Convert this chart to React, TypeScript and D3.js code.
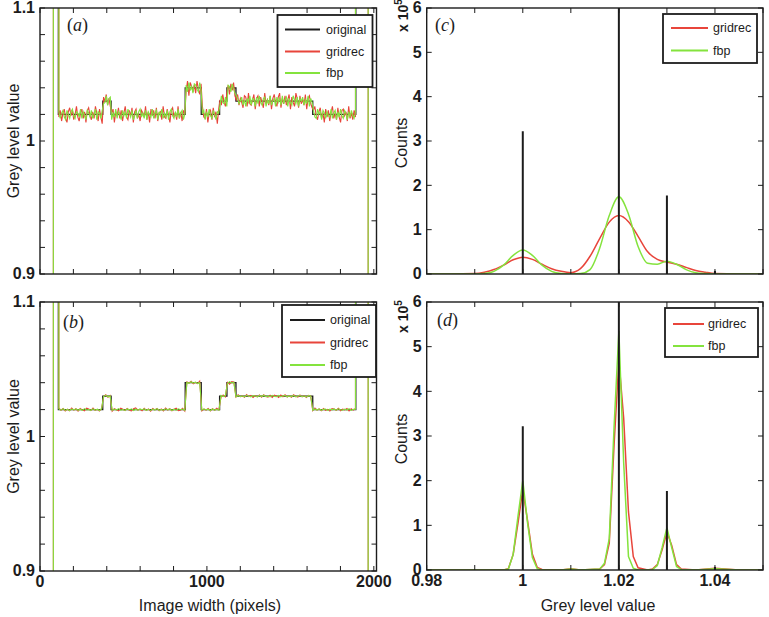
import React from 'react';
import * as d3 from 'd3';

// ---------------- data ----------------
// Profiles (panels a, b): x in image pixels, y grey level
const profileXMax = 2016;
const profileXTicks = [0, 200, 400, 600, 800, 1000, 1200, 1400, 1600, 1800, 2000];
const profileXLabels = [0, 1000, 2000];
const profileYTicks = [0.9, 0.92, 0.94, 0.96, 0.98, 1.0, 1.02, 1.04, 1.06, 1.08, 1.1];
const profileYLabels = ['0.9', '1', '1.1'];
const profileYLabelValues = [0.9, 1.0, 1.1];

const origEdges = [110, 376, 426, 870, 966, 1076, 1120, 1174, 1634, 1892];
const origLevels = [1.02, 1.03, 1.02, 1.04, 1.02, 1.03, 1.04, 1.03, 1.02];
const outsideLevel = 1.3; // off-scale outside the sample
const reconCircle = [80, 1966]; // reconstruction drops to 0 outside
const reconEdges = [113, 1890];

// residuals of the reconstructions relative to the original (units of 0.001)
const gridrecNoiseA = [
  -2, 3, -5, 1, 4, -3, -6, 2, 5, -1, 3, -4, 0, 6, -2, -5, 1, 4, -3, 2,
  -6, 3, 5, -1, -4, 2, -3, 6, 1, -5, 4, -2, -7, 3, 0, 5, -3, 2, -4, 1,
  4, -6, 2, -1, 5, -3, 3, -5, 1, 6, -2, -4, 3, -1, 5, -6, 2, 4, -3, 0,
  -5, 3, 1, -2, 6, -4, 2, -6, 4, -1, 3, -3, 5, -5, 1, 2, -4, 6, -2, -3,
  4, -1, -6, 3, 5, -2, 1, -4, 6, -3, 2, -5, 3, 0, -2, 5, -6, 4, 1, -3,
  2, -4, 5, -1, -5, 3, 6, -2, -3, 4, -6, 1, 3, -4, 5, -2, 2, -7, 4, 1,
  -3, 5, -1, -4, 6, 2, -5, 3, -2, 4, -6, 1, 5, -3, 2, -1, -5, 4, 3, -4,
  6, -2, -3, 1, 5, -6, 2, 4, -4, 3, -1, -5, 6, -2, 1, -3, 4, -6, 2, 5,
  -1, -4, 3, 6, -5, 2, -2, 4, -3, 1, 5, -6, 3, -1, -4, 6, 2, -5, 4, -2,
  1, -3, 5, -6, 2, 4, -2, -5, 3, 6, -1, -4, 2, 5, -3, 1, -6, 4, -2, 3,
  -5, 2, 6, -3, 1, -4, 5, -2, -6, 3, 4, -1, 2, -5, 6, -3, 1, -4, 3, -2,
];
const fbpNoiseA = [
  2, -3, 1, 3, -2, -4, 3, 0, -3, 2, 4, -1, -3, 2, 1, -2, 4, -3, 2, -1,
  -4, 3, 1, -2, 3, -3, 0, 4, -4, 2, 1, -3, 3, -2, -1, 4, -3, 2, 3, -4,
  1, -2, 4, -3, 2, 0, -4, 3, -1, 2, -3, 4, 1, -2, 3, -4, -1, 3, -3, 2,
  4, -2, 1, -3, 3, -4, 2, 0, -2, 4, -3, 1, 3, -4, 2, -1, 4, -3, 1, -2,
  3, -4, 2, 4, -1, -3, 2, -2, 4, -3, 1, 3, -4, 0, 2, -3, 4, -2, 1, -4,
  3, 2, -1, -3, 4, -2, 1, 3, -4, 2, -2, 4, -1, -3, 3, 0, -4, 2, 1, -3,
  4, -1, -2, 3, -4, 2, 1, -3, 3, -1, -4, 4, 2, -2, 0, 3, -3, 1, -4, 2,
  -1, 4, -3, 2, 1, -4, 3, -2, 4, -1, -3, 2, 3, -4, 1, -2, 4, -3, 0, 2,
  -4, 3, -1, 2, -3, 4, -2, 1, 3, -4, 2, -1, -3, 4, 1, -2, 3, -4, 2, 0,
  3, -3, 1, -2, 4, -4, 2, -1, 3, -2, -3, 4, 0, 2, -4, 3, 1, -3, 2, -1,
  -2, 4, -3, 1, 3, -4, 2, -2, 4, -1, -3, 3, 1, -4, 2, -2, 3, -1, -3, 2,
];
const gridrecNoiseB = [
  1, -0.5, 0.8, -1, 0.3, -0.8, 1.2, -0.4, 0.6, -1.1, 0.9, -0.2, -0.9, 1, 0.4, -0.7, 1.1, -0.6, 0.2, -1,
  0.8, -0.3, 1, -0.8, 0.5, -1.2, 0.7, -0.1, -0.9, 1.1, 0.3, -0.7, 0.9, -0.5, -1, 0.6, 1.2, -0.4, 0.2, -0.9,
  1, -0.6, 0.4, -1.1, 0.8, -0.2, 0.9, -0.8, 0.5, -1, 1.1, -0.3, 0.6, -0.9, 0.2, 1, -0.7, -0.4, 0.9, -1.1,
  0.6, -0.2, 1, -0.8, 0.3, -0.6, 1.2, -0.9, 0.4, -0.3, 0.8, -1, 0.7, -0.5, 1, -0.2, -0.8, 0.9, -0.6, 0.3,
  -1.1, 0.8, 0.5, -0.7, 1, -0.4, 0.2, -0.9, 1.1, -0.3, 0.6, -1, 0.4, -0.5, 0.9, -0.8, 1, -0.2, -0.7, 0.6,
  -0.9, 0.7, 0.2, -1, 0.8, -0.4, 1.1, -0.6, 0.3, -0.8, 1, -0.1, -0.7, 0.9, -0.5, 0.4, -1, 0.6, 0.1, -0.8,
  1.2, -0.3, 0.5, -0.9, 0.8, -0.6, 0.2, -1.1, 0.7, 0.4, -0.5, 1, -0.8, 0.3, -0.2, 0.9, -1, 0.6, -0.4, 0.8,
];
const fbpNoiseB = [
  0.5, -0.4, 0.7, -0.6, 0.2, -0.7, 0.4, -0.2, 0.6, -0.5, 0.3, -0.6, 0.7, -0.3, 0.1, -0.5, 0.6, -0.4, 0.3, -0.7,
  0.5, -0.1, 0.6, -0.5, 0.2, -0.6, 0.4, -0.3, 0.7, -0.4, 0.1, -0.6, 0.5, -0.2, 0.6, -0.7, 0.3, -0.4, 0.5, -0.1,
  0.6, -0.5, 0.2, -0.6, 0.4, -0.3, 0.7, -0.5, 0.1, -0.4, 0.6, -0.2, 0.5, -0.7, 0.3, -0.4, 0.6, -0.1, 0.4, -0.6,
  0.2, -0.5, 0.7, -0.3, 0.5, -0.6, 0.1, -0.4, 0.6, -0.2, 0.3, -0.7, 0.5, -0.4, 0.2, -0.5, 0.6, -0.3, 0.4, -0.6,
  0.7, -0.2, 0.3, -0.5, 0.5, -0.4, 0.2, -0.6, 0.6, -0.1, -0.5, 0.4, 0.1, -0.6, 0.5, -0.3, 0.7, -0.4, 0.2, -0.5,
  0.6, -0.2, -0.4, 0.5, -0.6, 0.3, 0.4, -0.5, 0.2, -0.3, 0.6, -0.6, 0.1, 0.5, -0.4, 0.3, -0.7, 0.4, 0.2, -0.5,
  0.5, -0.3, 0.6, -0.5, 0.2, 0.4, -0.6, 0.3, -0.2, 0.5, -0.4, 0.6, -0.1, -0.5, 0.4, -0.3, 0.7, -0.6, 0.2, 0.3,
];

// Histograms (panels c, d): grey level vs counts (x 10^5)
const histXTicks = [0.98, 0.99, 1.0, 1.01, 1.02, 1.03, 1.04, 1.05];
const histXLabels = ['0.98', '1', '1.02', '1.04'];
const histXLabelValues = [0.98, 1.0, 1.02, 1.04];
const histYTicks = [0, 1, 2, 3, 4, 5, 6];

const histXC = [0.98, 0.985, 0.99, 0.992, 0.994, 0.996, 0.998, 1.0, 1.002, 1.004, 1.006, 1.008, 1.01, 1.012, 1.014, 1.016, 1.018, 1.02, 1.022, 1.024, 1.026, 1.028, 1.03, 1.032, 1.034, 1.036, 1.038, 1.04, 1.045, 1.05];
const gridrecC = [0, 0, 0.01, 0.04, 0.1, 0.2, 0.32, 0.38, 0.33, 0.22, 0.12, 0.06, 0.03, 0.12, 0.4, 0.8, 1.17, 1.32, 1.18, 0.85, 0.5, 0.33, 0.27, 0.22, 0.15, 0.08, 0.04, 0.01, 0, 0];
const fbpC = [0, 0, 0, 0.01, 0.06, 0.2, 0.42, 0.54, 0.42, 0.2, 0.06, 0.01, 0, 0.01, 0.1, 0.58, 1.32, 1.74, 1.35, 0.62, 0.24, 0.22, 0.29, 0.22, 0.1, 0.03, 0.01, 0, 0, 0];

const histXD = [0.98, 0.99, 0.996, 0.997, 0.998, 0.999, 1.0, 1.001, 1.002, 1.003, 1.004, 1.008, 1.01, 1.012, 1.016, 1.017, 1.018, 1.019, 1.02, 1.021, 1.022, 1.023, 1.024, 1.026, 1.027, 1.028, 1.029, 1.03, 1.031, 1.032, 1.033, 1.036, 1.04, 1.045, 1.05];
const gridrecD = [0, 0, 0, 0.03, 0.35, 1.05, 1.8, 1.1, 0.35, 0.06, 0.01, 0, 0.03, 0, 0.02, 0.12, 0.6, 2.8, 4.7, 3.4, 1.3, 0.3, 0.05, 0, 0.02, 0.12, 0.45, 0.85, 0.55, 0.12, 0.02, 0, 0.04, 0, 0];
const fbpD = [0, 0, 0, 0.02, 0.35, 1.2, 2.0, 1.05, 0.28, 0.03, 0, 0, 0.02, 0, 0.02, 0.15, 0.7, 3.2, 5.35, 2.4, 0.3, 0.04, 0, 0, 0.01, 0.1, 0.5, 0.95, 0.5, 0.08, 0.01, 0, 0.03, 0, 0];

const origStemX = [1.0, 1.02, 1.03, 1.04];
const origStemCounts = [3.22, 7.5, 1.77, 0.07];

// ---------------- style ----------------
const RED = '#e8453b';
const GREEN = '#84e33d';
const INK = '#1c1c1c';
const SANS = '"Liberation Sans", Arial, Helvetica, sans-serif';
const SERIF = '"Liberation Serif", "Times New Roman", serif';

type Box = { x0: number; x1: number; y0: number; y1: number };

const boxA: Box = { x0: 40, x1: 376.5, y0: 8, y1: 274 };
const boxB: Box = { x0: 40, x1: 376.5, y0: 302, y1: 571 };
const boxC: Box = { x0: 426.7, x1: 763, y0: 8, y1: 274 };
const boxD: Box = { x0: 426.7, x1: 763, y0: 302, y1: 570 };

function levelAt(x: number) {
  for (let i = 0; i < origLevels.length; i++) {
    if (x >= origEdges[i] && x < origEdges[i + 1]) return origLevels[i];
  }
  return outsideLevel;
}

function originalProfile(): [number, number][] {
  const pts: [number, number][] = [[0, outsideLevel]];
  origEdges.forEach((e, i) => pts.push([e, i < origLevels.length ? origLevels[i] : outsideLevel]));
  pts.push([profileXMax, outsideLevel]);
  return pts;
}

function reconProfile(noise: number[]): [number, number][] {
  const [c0, c1] = reconCircle;
  const [e0, e1] = reconEdges;
  const pts: [number, number][] = [[0, 0], [c0, 0], [c0, outsideLevel], [e0, outsideLevel]];
  const n = noise.length;
  noise.forEach((v, i) => {
    const x = e0 + (i * (e1 - e0)) / (n - 1);
    pts.push([x, levelAt(x) + v * 0.001]);
  });
  pts.push([e1, outsideLevel], [c1, outsideLevel], [c1, 0], [profileXMax, 0]);
  return pts;
}

type FrameProps = {
  id: string;
  box: Box;
  x: d3.ScaleLinear<number, number>;
  y: d3.ScaleLinear<number, number>;
  xTicks: number[];
  yTicks: number[];
  xLabelValues: number[];
  xLabels: string[];
  yLabelValues: number[];
  yLabels: string[];
  children: React.ReactNode;
};

function Frame({ id, box, x, y, xTicks, yTicks, xLabelValues, xLabels, yLabelValues, yLabels, children }: FrameProps) {
  const tl = 5;
  return (
    <g>
      <clipPath id={id}>
        <rect x={box.x0} y={box.y0} width={box.x1 - box.x0} height={box.y1 - box.y0} />
      </clipPath>
      <g clipPath={`url(#${id})`}>{children}</g>
      {xTicks.map((t) => (
        <g key={'xt' + t} stroke={INK} strokeWidth={1}>
          <line x1={x(t)} x2={x(t)} y1={box.y1} y2={box.y1 - tl} />
          <line x1={x(t)} x2={x(t)} y1={box.y0} y2={box.y0 + tl} />
        </g>
      ))}
      {yTicks.map((t) => (
        <g key={'yt' + t} stroke={INK} strokeWidth={1}>
          <line x1={box.x0} x2={box.x0 + tl} y1={y(t)} y2={y(t)} />
          <line x1={box.x1} x2={box.x1 - tl} y1={y(t)} y2={y(t)} />
        </g>
      ))}
      <rect x={box.x0} y={box.y0} width={box.x1 - box.x0} height={box.y1 - box.y0} fill="none" stroke={INK} strokeWidth={1.4} />
      {xLabelValues.map((v, i) => (
        <text key={'xl' + i} x={x(v)} y={box.y1 + 16} textAnchor="middle" fontFamily={SANS} fontWeight="bold" fontSize={16} fill={INK}>
          {xLabels[i]}
        </text>
      ))}
      {yLabelValues.map((v, i) => (
        <text key={'yl' + i} x={box.x0 - 5} y={y(v)} dy="0.33em" textAnchor="end" fontFamily={SANS} fontWeight="bold" fontSize={16} fill={INK}>
          {yLabels[i]}
        </text>
      ))}
    </g>
  );
}

type LegendProps = {
  x: number; y: number; w: number; h: number;
  rows: { label: string; color: string; cy: number }[];
  lx1: number; lx2: number; tx: number;
};

function Legend({ x, y, w, h, rows, lx1, lx2, tx }: LegendProps) {
  return (
    <g>
      <rect x={x} y={y} width={w} height={h} fill="#fff" stroke={INK} strokeWidth={1.8} />
      {rows.map((r) => (
        <g key={r.label}>
          <line x1={lx1} x2={lx2} y1={r.cy} y2={r.cy} stroke={r.color} strokeWidth={2} />
          <text x={tx} y={r.cy} dy="0.35em" fontFamily={SANS} fontSize={12.5} fill={INK}>{r.label}</text>
        </g>
      ))}
    </g>
  );
}

function PanelLabel({ x, y, letter }: { x: number; y: number; letter: string }) {
  return (
    <text x={x} y={y} fontFamily={SERIF} fontSize={18} fill={INK}>
      (<tspan fontStyle="italic">{letter}</tspan>)
    </text>
  );
}

function ProfilePanel({ id, box, noiseR, noiseG, showX }: { id: string; box: Box; noiseR: number[]; noiseG: number[]; showX: boolean }) {
  const x = d3.scaleLinear().domain([0, profileXMax]).range([box.x0, box.x1]);
  const y = d3.scaleLinear().domain([0.9, 1.1]).range([box.y1, box.y0]);
  const stepLine = d3.line<[number, number]>().x((d) => x(d[0])).y((d) => y(d[1])).curve(d3.curveStepAfter);
  const line = d3.line<[number, number]>().x((d) => x(d[0])).y((d) => y(d[1]));
  return (
    <Frame
      id={id}
      box={box}
      x={x}
      y={y}
      xTicks={profileXTicks}
      yTicks={profileYTicks}
      xLabelValues={showX ? profileXLabels : []}
      xLabels={profileXLabels.map(String)}
      yLabelValues={profileYLabelValues}
      yLabels={profileYLabels}
    >
      <path d={stepLine(originalProfile()) || ''} fill="none" stroke={INK} strokeWidth={1.3} />
      <path d={line(reconProfile(noiseR)) || ''} fill="none" stroke={RED} strokeWidth={1.1} />
      <path d={line(reconProfile(noiseG)) || ''} fill="none" stroke={GREEN} strokeWidth={1.1} />
    </Frame>
  );
}

function HistPanel({ id, box, xs, red, green, showX }: { id: string; box: Box; xs: number[]; red: number[]; green: number[]; showX: boolean }) {
  const x = d3.scaleLinear().domain([0.98, 1.05]).range([box.x0, box.x1]);
  const y = d3.scaleLinear().domain([0, 6]).range([box.y1, box.y0]);
  const line = d3.line<number>().x((_, i) => x(xs[i])).y((d) => y(d)).curve(showX ? d3.curveLinear : d3.curveMonotoneX);
  return (
    <Frame
      id={id}
      box={box}
      x={x}
      y={y}
      xTicks={histXTicks}
      yTicks={histYTicks}
      xLabelValues={showX ? histXLabelValues : []}
      xLabels={histXLabels}
      yLabelValues={histYTicks}
      yLabels={histYTicks.map(String)}
    >
      <path d={line(red) || ''} fill="none" stroke={RED} strokeWidth={1.5} />
      <path d={line(green) || ''} fill="none" stroke={GREEN} strokeWidth={1.5} />
      {origStemX.map((v, i) => (
        <line key={v} x1={x(v)} x2={x(v)} y1={y(0)} y2={y(origStemCounts[i])} stroke={INK} strokeWidth={2} />
      ))}
    </Frame>
  );
}

function RotLabel({ x, y, text }: { x: number; y: number; text: string }) {
  return (
    <text transform={`translate(${x},${y}) rotate(-90)`} textAnchor="middle" fontFamily={SANS} fontSize={16} fill={INK}>
      {text}
    </text>
  );
}

function Exponent({ x, y }: { x: number; y: number }) {
  return (
    <text transform={`translate(${x},${y}) rotate(-90)`} fontFamily={SANS} fontSize={14} fontWeight="bold" fill={INK}>
      x 10<tspan dy={-6} fontSize={10}>5</tspan>
    </text>
  );
}

export default function App() {
  return (
    <svg width={769} height={617} viewBox="0 0 769 617" style={{ position: 'absolute', left: 0, top: 0, background: '#fff' }}>
      <rect x={0} y={0} width={769} height={617} fill="#fff" />
      <ProfilePanel id="clipA" box={boxA} noiseR={gridrecNoiseA} noiseG={fbpNoiseA} showX={false} />
      <ProfilePanel id="clipB" box={boxB} noiseR={gridrecNoiseB} noiseG={fbpNoiseB} showX={true} />
      <HistPanel id="clipC" box={boxC} xs={histXC} red={gridrecC} green={fbpC} showX={false} />
      <HistPanel id="clipD" box={boxD} xs={histXD} red={gridrecD} green={fbpD} showX={true} />

      <Legend x={277.5} y={15} w={95} h={72} lx1={285} lx2={320} tx={326}
        rows={[{ label: 'original', color: INK, cy: 29.5 }, { label: 'gridrec', color: RED, cy: 51.5 }, { label: 'fbp', color: GREEN, cy: 73 }]} />
      <Legend x={282} y={305} w={94} h={72} lx1={290} lx2={325} tx={330}
        rows={[{ label: 'original', color: INK, cy: 320 }, { label: 'gridrec', color: RED, cy: 342.5 }, { label: 'fbp', color: GREEN, cy: 365 }]} />
      <Legend x={663} y={14} w={94} h={49} lx1={671} lx2={708} tx={713}
        rows={[{ label: 'gridrec', color: RED, cy: 28 }, { label: 'fbp', color: GREEN, cy: 50.5 }]} />
      <Legend x={665} y={308} w={93} h={49} lx1={673} lx2={704} tx={708}
        rows={[{ label: 'gridrec', color: RED, cy: 324 }, { label: 'fbp', color: GREEN, cy: 346 }]} />

      <PanelLabel x={67} y={31} letter="a" />
      <PanelLabel x={63} y={328} letter="b" />
      <PanelLabel x={435} y={31} letter="c" />
      <PanelLabel x={437} y={326} letter="d" />

      <RotLabel x={18.5} y={141} text="Grey level value" />
      <RotLabel x={18.5} y={436.5} text="Grey level value" />
      <RotLabel x={407} y={143} text="Counts" />
      <RotLabel x={407} y={439} text="Counts" />
      <Exponent x={408} y={32} />
      <Exponent x={408} y={333} />

      <text x={210} y={611} textAnchor="middle" fontFamily={SANS} fontSize={16} fill={INK}>Image width (pixels)</text>
      <text x={598} y={611} textAnchor="middle" fontFamily={SANS} fontSize={16} fill={INK}>Grey level value</text>
    </svg>
  );
}
